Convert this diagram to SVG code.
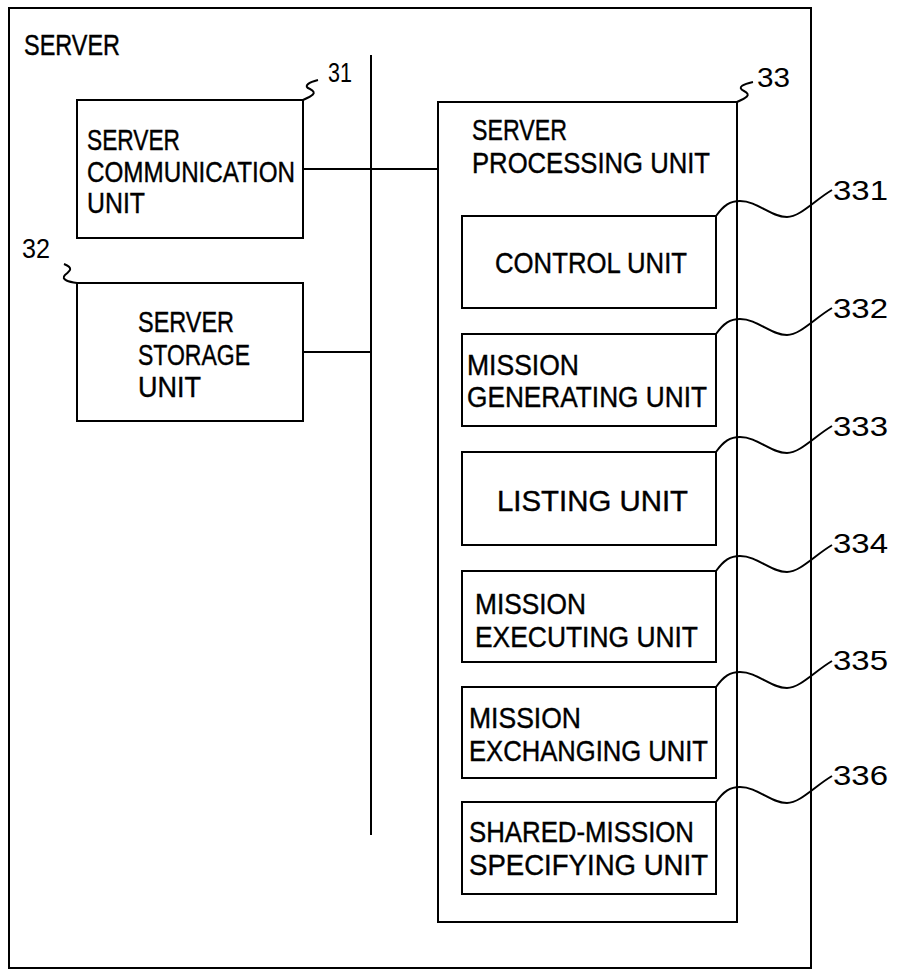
<svg xmlns="http://www.w3.org/2000/svg" width="897" height="970" viewBox="0 0 897 970">
<style>
.box{fill:none;stroke:#000;stroke-width:2}
.ln{fill:none;stroke:#000;stroke-width:2}
.t{font-family:"Liberation Sans",Arial,sans-serif;font-size:29px;fill:#000;stroke:#000;stroke-width:0.4}
.n{font-family:"Liberation Sans",Arial,sans-serif;font-size:27px;fill:#000}
</style>
<defs>
<path id="lead" d="M0,0 C8,-11 14,-15 24,-15 C42,-15 54,1 71,1 C84,1 99,-16 116,-26" class="ln"/>
</defs>
<rect width="897" height="970" fill="#fff"/>
<g id="server">
<rect x="9" y="8" width="802" height="960" class="box"/>
<text x="24" y="55" class="t" textLength="96" lengthAdjust="spacingAndGlyphs">SERVER</text>
</g>
<g id="connectors">
<line x1="371" y1="55" x2="371" y2="835" class="ln"/>
<line x1="303" y1="169" x2="438" y2="169" class="ln"/>
<line x1="303" y1="352" x2="371" y2="352" class="ln"/>
</g>
<g id="n31">
<rect x="77" y="100" width="226" height="138" class="box"/>
<text x="87" y="150" class="t" textLength="93" lengthAdjust="spacingAndGlyphs">SERVER</text>
<text x="87" y="182" class="t" textLength="208" lengthAdjust="spacingAndGlyphs">COMMUNICATION</text>
<text x="87" y="213" class="t" textLength="58" lengthAdjust="spacingAndGlyphs">UNIT</text>
<path d="M303,100 C312,96 318,93 310,89 C302,86 310,82 318,80" class="ln"/>
<text x="328" y="82" class="n" textLength="24" lengthAdjust="spacingAndGlyphs">31</text>
</g>
<g id="n32">
<rect x="77" y="283" width="226" height="138" class="box"/>
<text x="138" y="332" class="t" textLength="96" lengthAdjust="spacingAndGlyphs">SERVER</text>
<text x="138" y="365" class="t" textLength="112" lengthAdjust="spacingAndGlyphs">STORAGE</text>
<text x="138" y="397" class="t" textLength="63" lengthAdjust="spacingAndGlyphs">UNIT</text>
<path d="M77,283 C70,282 60,280 65,275 C70,271 74,268 64,264" class="ln"/>
<text x="22" y="258" class="n" textLength="28" lengthAdjust="spacingAndGlyphs">32</text>
</g>
<g id="n33">
<rect x="438" y="102" width="299" height="820" class="box"/>
<text x="472" y="140" class="t" textLength="95" lengthAdjust="spacingAndGlyphs">SERVER</text>
<text x="472" y="173" class="t" textLength="238" lengthAdjust="spacingAndGlyphs">PROCESSING UNIT</text>
<path d="M737,102 C746,98 752,95 744,91 C736,87 744,84 753,82" class="ln"/>
<text x="757" y="87" class="n" textLength="33" lengthAdjust="spacingAndGlyphs">33</text>
</g>
<g id="n331">
<rect x="462" y="216" width="254" height="92" class="box"/>
<text x="495" y="273" class="t" textLength="192" lengthAdjust="spacingAndGlyphs">CONTROL UNIT</text>
<use href="#lead" x="716" y="216"/>
<text x="833" y="200" class="n" textLength="55" lengthAdjust="spacingAndGlyphs">331</text>
</g>
<g id="n332">
<rect x="462" y="334" width="254" height="92" class="box"/>
<text x="467" y="375" class="t" textLength="112" lengthAdjust="spacingAndGlyphs">MISSION</text>
<text x="467" y="407" class="t" textLength="240" lengthAdjust="spacingAndGlyphs">GENERATING UNIT</text>
<use href="#lead" x="716" y="334"/>
<text x="833" y="318" class="n" textLength="55" lengthAdjust="spacingAndGlyphs">332</text>
</g>
<g id="n333">
<rect x="462" y="452" width="254" height="93" class="box"/>
<text x="497" y="511" class="t" textLength="191" lengthAdjust="spacingAndGlyphs">LISTING UNIT</text>
<use href="#lead" x="716" y="452"/>
<text x="833" y="436" class="n" textLength="55" lengthAdjust="spacingAndGlyphs">333</text>
</g>
<g id="n334">
<rect x="462" y="571" width="254" height="91" class="box"/>
<text x="475" y="614" class="t" textLength="111" lengthAdjust="spacingAndGlyphs">MISSION</text>
<text x="475" y="647" class="t" textLength="223" lengthAdjust="spacingAndGlyphs">EXECUTING UNIT</text>
<use href="#lead" x="716" y="571"/>
<text x="833" y="553" class="n" textLength="55" lengthAdjust="spacingAndGlyphs">334</text>
</g>
<g id="n335">
<rect x="462" y="687" width="254" height="91" class="box"/>
<text x="469" y="728" class="t" textLength="112" lengthAdjust="spacingAndGlyphs">MISSION</text>
<text x="469" y="761" class="t" textLength="239" lengthAdjust="spacingAndGlyphs">EXCHANGING UNIT</text>
<use href="#lead" x="716" y="687"/>
<text x="833" y="670" class="n" textLength="55" lengthAdjust="spacingAndGlyphs">335</text>
</g>
<g id="n336">
<rect x="462" y="802" width="254" height="92" class="box"/>
<text x="469" y="842" class="t" textLength="225" lengthAdjust="spacingAndGlyphs">SHARED-MISSION</text>
<text x="469" y="875" class="t" textLength="239" lengthAdjust="spacingAndGlyphs">SPECIFYING UNIT</text>
<use href="#lead" x="716" y="802"/>
<text x="833" y="785" class="n" textLength="55" lengthAdjust="spacingAndGlyphs">336</text>
</g>
</svg>
